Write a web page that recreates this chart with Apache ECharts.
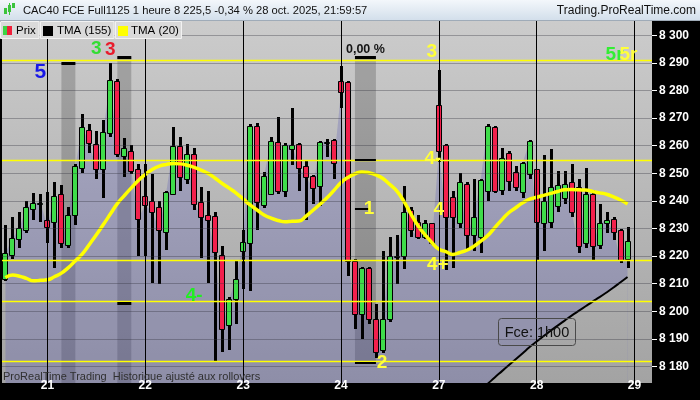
<!DOCTYPE html>
<html><head><meta charset="utf-8">
<script src="https://cdn.jsdelivr.net/npm/echarts@6/dist/echarts.min.js"></script>
<style>html,body{margin:0;padding:0;background:#000;}#c{width:700px;height:400px;}</style>
</head><body><div id="c"></div>
<script>
// ---------- data ----------
const sessionHours = ['08h','09h','10h','11h','12h','13h','14h','15h','16h','17h','18h','19h','20h','21h'];
const firstDayHours = ['16h','17h','18h','19h','20h','21h'];
const fullDays = ['21','22','23','24','27','28'];
const emptyDay = '29';
const emptyHours = ['08h','09h','10h'];
const dayTickLabels = ['21','22','23','24','27','28','29'];
const priceTicks = [8180,8190,8200,8210,8220,8230,8240,8250,8260,8270,8280,8290,8300];

const opens  = [8211.5,8220.5,8226.2,8229.4,8237.1,8239.0,
  8233.1,8232.4,8242.5,8224.0,8235.0,8252.0,8265.7,8260.6,8251.4,8264.5,8283.6,8256.2,8258.0,8251.4,
  8241.7,8240.1,8237.8,8228.8,8242.5,8259.8,8247.9,8257.0,8239.5,8235.0,8234.4,8220.5,8194.9,8204.4,
  8221.7,8224.9,8267.3,8238.5,8242.5,8261.3,8243.7,8258.9,8260.6,8252.6,8249.1,8245.5,8260.8,8262.1,
  8283.6,8283.0,8218.1,8199.1,8215.7,8197.3,8186.0,8197.3,8219.5,8219.9,8236.6,8232.4,8227.0,8231.8,
  8274.7,8260.1,8241.3,8232.0,8246.1,8227.7,8227.0,8243.5,8266.6,8243.8,8257.4,8250.6,8243.1,8249.6,
  8251.4,8231.8,8232.4,8238.0,8241.0,8246.7,8245.0,8224.6,8242.5,8224.0,8231.8,8233.6,8229.4,8219.0];
const closes = [8221.2,8226.4,8230.0,8237.8,8239.2,8239.4,
  8230.6,8241.9,8224.6,8235.0,8252.6,8266.6,8261.0,8251.4,8265.1,8283.9,8256.8,8259.2,8250.9,8233.6,
  8238.5,8236.0,8229.4,8243.1,8259.8,8248.5,8256.8,8238.9,8234.2,8233.0,8221.3,8193.7,8204.4,8211.6,
  8225.2,8267.3,8239.5,8249.1,8261.8,8243.7,8260.4,8260.4,8252.0,8248.7,8244.6,8261.3,8261.5,8253.8,
  8279.4,8218.1,8199.1,8215.7,8197.3,8185.4,8197.3,8219.9,8220.0,8236.0,8229.4,8227.0,8231.8,8224.6,
  8258.0,8234.2,8234.2,8246.7,8227.6,8234.2,8247.7,8267.3,8243.5,8255.6,8247.3,8245.2,8253.8,8261.6,
  8232.4,8240.1,8245.0,8245.6,8246.0,8236.0,8223.5,8242.5,8223.5,8231.8,8233.2,8228.8,8218.7,8225.5];
const lows   = [8211.0,8218.8,8222.9,8228.5,8233.0,8232.4,
  8224.6,8215.7,8222.9,8223.0,8231.3,8250.0,8257.4,8248.0,8241.0,8263.0,8256.0,8248.5,8249.6,8219.9,
  8219.9,8210.4,8209.8,8222.3,8242.0,8243.7,8246.0,8236.6,8219.3,8210.4,8182.0,8185.4,8186.0,8195.5,
  8208.0,8207.4,8229.5,8237.5,8242.0,8242.5,8241.3,8253.0,8243.7,8233.0,8238.9,8238.0,8256.0,8247.9,
  8273.5,8212.8,8193.7,8190.1,8195.5,8183.0,8185.0,8196.0,8209.9,8215.2,8227.0,8226.0,8226.0,8224.0,
  8254.0,8215.1,8215.7,8230.0,8222.0,8221.7,8221.0,8240.0,8243.0,8242.0,8243.7,8243.7,8241.0,8247.9,
  8218.7,8221.7,8230.0,8236.0,8238.9,8234.0,8221.0,8222.9,8218.1,8222.5,8228.2,8225.9,8217.5,8215.7];
const highs  = [8231.3,8234.2,8236.0,8240.0,8242.7,8242.5,
  8243.1,8246.7,8245.6,8237.8,8253.5,8271.3,8268.0,8265.4,8269.3,8290.1,8284.0,8262.8,8260.4,8253.2,
  8253.2,8249.6,8240.0,8243.5,8266.9,8263.1,8260.6,8259.2,8244.9,8243.7,8236.0,8223.7,8205.2,8218.7,
  8229.5,8267.8,8268.1,8250.5,8263.1,8270.5,8260.8,8273.7,8261.0,8254.4,8249.5,8261.6,8262.5,8262.5,
  8288.9,8283.6,8219.0,8216.0,8216.0,8202.6,8221.7,8227.0,8227.7,8245.5,8237.8,8234.8,8233.0,8232.0,
  8287.5,8260.7,8243.7,8250.2,8247.0,8247.9,8248.0,8267.8,8267.0,8259.2,8258.0,8252.5,8254.0,8262.0,
  8251.5,8256.6,8258.9,8250.9,8250.9,8253.2,8247.9,8251.8,8243.9,8239.0,8236.0,8234.0,8229.9,8230.6];
const tma20 = [8212.2,8213.1,8212.7,8211.9,8211.0,8211.2,
  8211.4,8212.5,8213.8,8215.8,8218.3,8220.8,8224.2,8227.7,8231.4,8235.2,8239.0,8241.9,8244.7,8247.4,
  8249.6,8251.4,8252.6,8253.2,8253.5,8253.4,8252.9,8252.1,8251.1,8249.9,8248.2,8246.3,8244.6,8242.8,
  8240.7,8238.5,8236.7,8234.9,8233.7,8232.9,8232.4,8232.6,8232.7,8234.5,8236.6,8238.8,8241.1,8243.8,
  8246.6,8248.5,8249.8,8250.5,8250.2,8249.4,8248.1,8245.9,8243.5,8239.8,8235.3,8231.1,8227.8,8224.9,
  8222.5,8221.6,8220.6,8221.3,8222.1,8223.5,8225.4,8227.4,8230.3,8233.1,8235.7,8237.5,8239.3,8240.6,
  8241.3,8242.0,8242.7,8243.4,8244.0,8244.1,8244.0,8243.9,8243.4,8242.9,8242.4,8241.4,8240.3,8238.9];
const tma155 = [null,null,null,null,null,null,
  null,null,null,null,null,null,null,null,null,null,null,null,null,null,
  null,null,null,null,null,null,null,null,null,null,null,null,null,null,
  null,null,null,null,null,null,null,null,null,null,null,null,null,null,
  null,null,null,null,null,null,null,null,null,null,null,null,null,null,
  null,null,null,null,null,null,8171.5,8173.7,8176.0,8178.2,8180.4,8182.6,8184.8,8187.0,
  8189.0,8191.0,8192.9,8194.8,8196.6,8198.4,8200.1,8201.8,8203.5,8205.1,8206.8,8208.6,8210.5,8212.4];
const yellowLevels = [8291.1, 8254.8, 8218.4, 8203.7, 8181.9];

// ---------- build ----------
const cats = [];
firstDayHours.forEach(h => cats.push('20 ' + h));
fullDays.forEach(d => sessionHours.forEach(h => cats.push(d + ' ' + h)));
emptyHours.forEach(h => cats.push(emptyDay + ' ' + h));
const dayStart = [];
cats.forEach((c, i) => { if (c.endsWith(' 08h')) dayStart.push(i); });

const FONT = 'Liberation Sans, Arial, sans-serif';
const GREEN = '#3fdc4a', RED = '#f2204c';
const bgGrad = {type:'linear', x:0, y:8, x2:0, y2:400, global:true,
  colorStops:[{offset:0,color:'#cdcdcd'},{offset:1,color:'#a1a1a1'}]};

function thou(s){ return s.replace(/\B(?=(\d{3})+(?!\d))/g, ' '); }
function fmt1(v){ const p = v.toFixed(1).split('.'); return thou(p[0]) + ',' + p[1]; }

const candleData = closes.map((c, i) => [i, opens[i], c, lows[i], highs[i]]);

function renderCandle(params, api) {
  const i = api.value(0), o = api.value(1), c = api.value(2), l = api.value(3), h = api.value(4);
  const pO = api.coord([i, o]), pC = api.coord([i, c]), pL = api.coord([i, l]), pH = api.coord([i, h]);
  const cx = Math.round(pO[0]);
  const top = Math.round(Math.min(pO[1], pC[1])) + 0.5, bot = Math.round(Math.max(pO[1], pC[1])) + 0.5;
  const yh = Math.round(pH[1]), yl = Math.round(pL[1]);
  return {type:'group', children:[
    {type:'rect', shape:{x:cx-1, y:yh, width:3, height:Math.max(yl-yh,1)}, style:{fill:'#000'}},
    {type:'rect', shape:{x:cx-2.5, y:top, width:5, height:Math.max(bot-top, 1)},
      style:{fill: c >= o ? GREEN : RED, stroke:'#000', lineWidth:1}}
  ]};
}

const seg = (a, b, v, w) => [{coord:[cats[a], v], lineStyle:{color:'#000', width:w, type:'solid'}}, {coord:[cats[b], v]}];

const overlayLines = []
  .concat(priceTicks.map(v => ({yAxis: v, lineStyle:{color:'rgba(50,50,60,0.35)', width:1, type:'solid'}})))
  .concat(yellowLevels.map(v => ({yAxis: v, lineStyle:{color:'#ffff00', width:1.3, type:'solid'}})))
  .concat(dayStart.map(i => ({xAxis: cats[i], lineStyle:{color:'#000', width:1, type:'solid'}})))
  .concat([seg(8,10,8290,3), seg(16,18,8292,3), seg(16,18,8203,3), seg(50,53,8292,3),
           seg(50,53,8254.8,2), seg(50,52,8237,2), seg(50,53,8181.5,2)]);

function note(i, v, text, color, size, off) {
  return {coord:[cats[i], v], symbol:'circle', symbolSize:1, itemStyle:{color:'rgba(0,0,0,0)'},
    label:{show:true, position:'inside', formatter:text, color:color, fontSize:size, fontWeight:'bold',
      fontFamily:FONT, offset: off || [0,0]}};
}
const Y = '#ffff3a';
const notes = [
  note(5, 8286.7, '5', '#1818e8', 21),
  note(13, 8295.2, '3', '#33dd33', 19),
  note(15, 8294.9, '3', '#e81c2c', 19),
  note(51, 8294.9, '0,00 %', '#151515', 12.5, [3.5,0]),
  note(61, 8294.2, '3', Y, 19),
  note(61, 8255.2, '4-', Y, 19, [1,0]),
  note(52, 8237.0, '1', Y, 19),
  note(62, 8236.6, '4', Y, 19),
  note(62, 8217.0, '4+', Y, 19, [-1,0]),
  note(54, 8181.3, '2', Y, 19, [-1,0]),
  note(27, 8205.5, '4-', '#22ee22', 19),
  note(87, 8293, '5r', '#33ee33', 19, [1,0]),
  note(89, 8293, '5r', Y, 19, [1,0])
];
function tag(v, fg, bg) {
  return {yAxis: v, lineStyle:{opacity:0}, label:{show:true, position:'end', distance:5,
    formatter: fmt1(v), color: fg, backgroundColor: bg, padding:[1,2,0,2], fontSize:12,
    fontWeight:'bold', fontFamily:FONT}};
}
const tags = [
  tag(tma20[tma20.length-1], '#ffff40', '#9c9c9c'),
  tag(closes[closes.length-1], '#000', {type:'linear',x:0,y:0,x2:0,y2:1,colorStops:[{offset:0,color:'#ffe040'},{offset:1,color:'#e8a800'}]}),
  tag(tma155[tma155.length-1], '#000', '#a4a4a4')
];

const chart = echarts.init(document.getElementById('c'), null, {renderer:'canvas'});
chart.setOption({
  backgroundColor:'#000',
  animation:false,
  grid:{left:2, right:48, top:7.7, bottom:0.3, show:true, backgroundColor:bgGrad, borderWidth:0},
  xAxis:{type:'category', data:cats, boundaryGap:true, offset:-17, z:120,
    axisLine:{show:false}, axisTick:{show:false}, splitLine:{show:false},
    axisLabel:{interval:(idx) => dayStart.indexOf(idx) >= 0,
      formatter:(val, idx) => dayTickLabels[dayStart.indexOf(idx)] || '',
      color:'#fff', fontWeight:'bold', fontSize:12, margin:3, fontFamily:FONT}},
  yAxis:{type:'value', position:'right', min:8170, max:8310, interval:10, scale:true,
    axisLine:{show:false}, splitLine:{show:false},
    axisTick:{show:true, length:5, lineStyle:{color:'#fff'}},
    axisLabel:{color:'#fff', fontWeight:'bold', fontSize:12, margin:7, fontFamily:FONT,
      formatter:(v) => thou(String(v))}},
  series:[
    {name:'area', type:'line', data:closes, symbol:'none', z:1, silent:true,
      lineStyle:{width:0}, areaStyle:{color:'rgba(88,88,182,0.40)', origin:'start'}},
    {name:'below155', type:'line', data:tma155, symbol:'none', z:1, silent:true,
      lineStyle:{width:0}, areaStyle:{color:bgGrad, opacity:1, origin:'start'}},
    {name:'overlay', type:'line', data:[], z:2, silent:true,
      markArea:{silent:true, itemStyle:{color:'rgba(0,0,0,0.19)'}, data:[
        [{xAxis:cats[8], yAxis:8290}, {xAxis:cats[10], yAxis:8170}],
        [{xAxis:cats[16], yAxis:8292}, {xAxis:cats[18], yAxis:8170}],
        [{xAxis:cats[50], yAxis:8292}, {xAxis:cats[53], yAxis:8181.5}]]},
      markLine:{silent:true, symbol:['none','none'], label:{show:false}, animation:false, data:overlayLines}},
    {name:'Prix', type:'custom', renderItem:renderCandle, data:candleData, z:3,
      encode:{x:0, y:[1,2,3,4]}},
    {name:'TMA (20)', type:'line', data:tma20, symbol:'none', smooth:true, z:4,
      lineStyle:{color:'#ffff00', width:3.5}},
    {name:'TMA (155)', type:'line', data:tma155, symbol:'none', smooth:true, z:4,
      lineStyle:{color:'#000', width:2}},
    {name:'notes', type:'line', data:[], z:6, silent:true,
      markPoint:{silent:true, data:notes},
      markLine:{silent:true, symbol:['none','none'], data:tags}}
  ],
  graphic:[
    {type:'rect', z:100, shape:{x:0,y:0,width:700,height:20},
      style:{fill:{type:'linear',x:0,y:0,x2:0,y2:1,colorStops:[{offset:0,color:'#f3f7fb'},{offset:1,color:'#d3dfeb'}]}}},
    {type:'line', z:101, shape:{x1:0,y1:20.5,x2:700,y2:20.5}, style:{stroke:'#9fabb8', lineWidth:1}},
    {type:'rect', z:101, shape:{x:4,y:8,width:3,height:6}, style:{fill:'#3cc43c'}},
    {type:'rect', z:101, shape:{x:8,y:5,width:3,height:7}, style:{fill:'#3cc43c'}},
    {type:'rect', z:101, shape:{x:12,y:3,width:3,height:5}, style:{fill:'#3cc43c'}},
    {type:'line', z:101, shape:{x1:9.5,y1:3,x2:9.5,y2:15}, style:{stroke:'#3cc43c', lineWidth:1}},
    {type:'text', z:101, x:23, y:10.5, style:{text:'CAC40 FCE Full1125 1 heure 8 225,5 -0,34 % 28 oct. 2025, 21:59:57',
      font:'11.2px Liberation Sans', fill:'#111', textVerticalAlign:'middle', verticalAlign:'middle'}},
    {type:'text', z:101, x:696, y:10.5, style:{text:'Trading.ProRealTime.com', font:'12px Liberation Sans',
      fill:'#111', textAlign:'right', align:'right', textVerticalAlign:'middle', verticalAlign:'middle'}},
    // legend
    {type:'rect', z:101, shape:{x:0.5,y:21.5,width:38.5,height:17}, style:{fill:'#dadada', stroke:'#f2f2f2', lineWidth:1}},
    {type:'rect', z:102, shape:{x:3,y:26,width:4,height:9}, style:{fill:'#3cd444'}},
    {type:'rect', z:102, shape:{x:7,y:26,width:5,height:9}, style:{fill:'#f0203a'}},
    {type:'text', z:102, x:16, y:30.5, style:{text:'Prix', font:'11.5px Liberation Sans', fill:'#000', textVerticalAlign:'middle', verticalAlign:'middle'}},
    {type:'rect', z:101, shape:{x:40.5,y:21.5,width:73.5,height:17}, style:{fill:'#dadada', stroke:'#f2f2f2', lineWidth:1}},
    {type:'rect', z:102, shape:{x:43,y:26,width:10,height:10}, style:{fill:'#000'}},
    {type:'text', z:102, x:57, y:30.5, style:{text:'TMA (155)', font:'11.5px Liberation Sans', fill:'#000', textVerticalAlign:'middle', verticalAlign:'middle'}},
    {type:'rect', z:101, shape:{x:115.5,y:21.5,width:66,height:17}, style:{fill:'#dadada', stroke:'#f2f2f2', lineWidth:1}},
    {type:'rect', z:102, shape:{x:118,y:26,width:10,height:10}, style:{fill:'#ffff00'}},
    {type:'text', z:102, x:131, y:30.5, style:{text:'TMA (20)', font:'11.5px Liberation Sans', fill:'#000', textVerticalAlign:'middle', verticalAlign:'middle'}},
    // Fce box
    {type:'rect', z:101, shape:{x:498.5,y:318.5,width:77,height:27,r:3}, style:{fill:'rgba(0,0,0,0)', stroke:'#4a4a4a', lineWidth:1}},
    {type:'text', z:102, x:537, y:332.5, style:{text:'Fce: 1h00', font:'14.5px Liberation Sans', fill:'#111',
      textAlign:'center', align:'center', textVerticalAlign:'middle', verticalAlign:'middle'}},
    // footer
    {type:'text', z:101, x:3, y:376.5, style:{text:'ProRealTime Trading  Historique ajusté aux rollovers', font:'11px Liberation Sans',
      fill:'#303030', textVerticalAlign:'middle', verticalAlign:'middle'}},
    {type:'rect', z:100, shape:{x:0,y:383,width:700,height:17}, style:{fill:'#000'}}
  ]
});
</script></body></html>
